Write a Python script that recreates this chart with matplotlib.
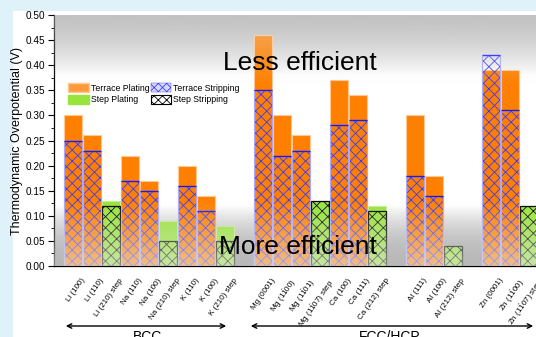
import numpy as np
import matplotlib
matplotlib.use("Agg")
import matplotlib.pyplot as plt
from matplotlib.patches import Patch, Rectangle, FancyArrowPatch
from matplotlib.transforms import ScaledTranslation


# ---------------------------
# Data
# ---------------------------

facets = [
    "Li (100)", "Li (110)", "Li (210) step",
    "Na (110)", "Na (100)", "Na (210) step",
    "K (110)", "K (100)", "K (210) step",
    "Mg (0001)", r"Mg (1$\bar{1}$00)", r"Mg (1$\bar{1}$01)", r"Mg (1$\bar{1}$07) step",
    "Ca (100)", "Ca (111)", "Ca (212) step",
    "Al (111)", "Al (100)", "Al (212) step",
    "Zn (0001)", r"Zn (1$\bar{1}$00)", r"Zn (1$\bar{1}$07) step",
]
is_step = [
    False, False, True, False, False, True, False, False, True,
    False, False, False, True, False, False, True,
    False, False, True, False, False, True,
]
# metal group of each facet (a blank slot separates groups)
group = [0, 0, 0, 0, 0, 0, 0, 0, 0, 1, 1, 1, 1, 1, 1, 1, 2, 2, 2, 3, 3, 3]

plating = [0.30, 0.26, 0.13, 0.22, 0.17, 0.09, 0.20, 0.14, 0.08,
           0.46, 0.30, 0.26, 0.13, 0.37, 0.34, 0.12,
           0.30, 0.18, 0.04, 0.39, 0.39, 0.12]
stripping = [0.25, 0.23, 0.12, 0.17, 0.15, 0.05, 0.16, 0.11, 0.05,
             0.35, 0.22, 0.23, 0.13, 0.28, 0.29, 0.11,
             0.18, 0.14, 0.04, 0.42, 0.31, 0.12]


# ---------------------------
# Styling
# ---------------------------

plt.rcParams["font.family"] = ["Liberation Sans", "DejaVu Sans"]
plt.rcParams["mathtext.fontset"] = "custom"
plt.rcParams["mathtext.rm"] = "Liberation Sans"
plt.rcParams["hatch.linewidth"] = 0.6

ORANGE = "#ff8000"
GREEN = "#98e43c"
BLUE = "#3a3aff"
PAGE_BLUE = "#dff1f9"

x = np.arange(len(facets)) + np.array(group)
width = 0.94

fig = plt.figure(figsize=(5.36, 3.37), dpi=100)
fig.patch.set_facecolor("white")
fig.patches.append(Rectangle((0, 0), 13 / 536, 1, transform=fig.transFigure,
                             facecolor=PAGE_BLUE, edgecolor="none", zorder=-5))
fig.patches.append(Rectangle((0, 1 - 11 / 337), 1, 11 / 337, transform=fig.transFigure,
                             facecolor=PAGE_BLUE, edgecolor="none", zorder=-5))

ax = fig.add_axes([54 / 536, 71 / 337, 482 / 536, 251 / 337])
ax.set_facecolor("none")
xlim = (-1, 24.37)
ylim = (0, 0.5)

# background gradient (grey at the top and the bottom of the plot area)
yy = np.linspace(ylim[0], ylim[1], 300)
grey = np.interp(yy, [0.0, 0.12, 0.38, 0.50], [120, 255, 255, 165]) / 255
bg = np.repeat(grey[:, None], 2, axis=1)
ax.imshow(bg, cmap="gray", vmin=0, vmax=1, origin="lower", aspect="auto",
          extent=[xlim[0], xlim[1], ylim[0], ylim[1]], zorder=0, interpolation="bilinear")

# bars
for xi, p, s, step in zip(x, plating, stripping, is_step):
    if step:
        ax.bar(xi, p, width, color=GREEN, edgecolor="#c6f08e", linewidth=0.6, zorder=2)
        ax.bar(xi, s, width, facecolor="none", edgecolor="black", hatch="xxx",
               linewidth=0.9, zorder=2.5)
    else:
        ax.bar(xi, p, width, color=ORANGE, edgecolor="#ffc894", linewidth=0.8, zorder=2)
        # hatch only, then a pale outline and a dark top line
        ax.bar(xi, s, width, facecolor="none", edgecolor=BLUE, hatch="xxx",
               linewidth=0, zorder=2.5)
        ax.bar(xi, s, width, facecolor="none", edgecolor="#a8a8ff", linewidth=0.8,
               zorder=2.6)
        ax.hlines(s, xi - width / 2, xi + width / 2, color="#1a1aff", linewidth=1.0,
                  zorder=2.7)

# haze overlay that fades the bars near the top and bottom
alpha = np.interp(yy, [0.0, 0.13, 0.36, 0.50], [0.6, 0.0, 0.0, 0.45])
haze = np.ones((len(yy), 2, 4)) * (230 / 255)
haze[:, :, 3] = alpha[:, None]
ax.imshow(haze, origin="lower", aspect="auto", extent=[xlim[0], xlim[1], ylim[0], ylim[1]],
          zorder=3, interpolation="bilinear")

ax.set_xlim(*xlim)
ax.set_ylim(*ylim)

# axes and ticks
yt = np.arange(0, 0.51, 0.05)
ax.set_yticks(yt)
ax.set_yticklabels([f"{v:.2f}" for v in yt], fontsize=7.2)
ax.set_yticks(np.arange(0.025, 0.5, 0.05), minor=True)
ax.tick_params(axis="y", which="major", direction="out", length=4, width=0.8, pad=2)
ax.tick_params(axis="y", which="minor", direction="out", length=2, width=0.6)
ax.set_xticks(x)
ax.set_xticklabels(facets, rotation=55, ha="right", va="top", rotation_mode="anchor",
                   fontsize=5.8)
ax.tick_params(axis="x", length=0, pad=8)
shift = ScaledTranslation(8 / 100, 0, fig.dpi_scale_trans)
for lbl in ax.get_xticklabels():
    lbl.set_transform(lbl.get_transform() + shift)
for side in ["top", "right"]:
    ax.spines[side].set_visible(False)
ax.spines["left"].set_linewidth(0.9)
ax.spines["bottom"].set_linewidth(0.9)
ax.set_ylabel("Thermodynamic Overpotential (V)", fontsize=9, labelpad=2)

# annotations
ax.text(11.95, 0.39, "Less efficient", fontsize=19, ha="center", va="baseline", zorder=5)
ax.text(11.84, 0.024, "More efficient", fontsize=19, ha="center", va="baseline", zorder=5)

# legend
handles = [
    Patch(facecolor="#ff9a3c", edgecolor="#ffc894", label="Terrace Plating"),
    Patch(facecolor=GREEN, edgecolor=GREEN, label="Step Plating"),
    Patch(facecolor="#d8d8ff", edgecolor=BLUE, hatch="xxxx", linewidth=0.3,
          label="Terrace Stripping"),
    Patch(facecolor="white", edgecolor="black", hatch="xxxx", linewidth=0.8,
          label="Step Stripping"),
]
ax.legend(handles=handles, ncols=2, loc="upper left", bbox_to_anchor=(0.021, 0.745),
          frameon=False, fontsize=6.3, handlelength=2.3, handleheight=1.15,
          handletextpad=0.25, columnspacing=0.2, labelspacing=0.25, borderpad=0)

# crystal structure arrows under the labels
y_arrow = 1 - 326 / 337
fig.add_artist(FancyArrowPatch(
    (63 / 536, y_arrow), (229 / 536, y_arrow), transform=fig.transFigure,
    arrowstyle="<->", mutation_scale=8, linewidth=1.0, color="black"))
fig.add_artist(FancyArrowPatch(
    (248 / 536, y_arrow), (536 / 536, y_arrow), transform=fig.transFigure,
    arrowstyle="<->", mutation_scale=8, linewidth=1.0, color="black"))
fig.text(148 / 536, 1 - 330 / 337, "BCC", fontsize=10, ha="center", va="top")
fig.text(390 / 536, 1 - 330 / 337, "FCC/HCP", fontsize=10, ha="center", va="top")

fig.savefig("out.png", dpi=100)
